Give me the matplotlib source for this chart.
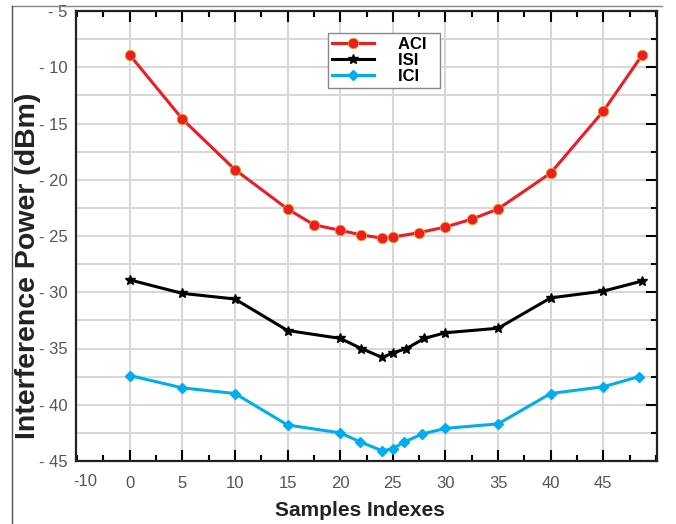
import matplotlib
matplotlib.use('Agg')
import matplotlib.pyplot as plt
from matplotlib.lines import Line2D
from matplotlib.ticker import MultipleLocator

plt.rcParams['font.family'] = ['Liberation Sans', 'DejaVu Sans']

# ACI series
aci_x = [0, 5, 10, 15, 17.5, 20, 22, 24, 25, 27.5, 30, 32.5, 35, 40, 45, 48.7]
aci_y = [-8.9, -14.6, -19.1, -22.6, -24.0, -24.5, -24.9, -25.2, -25.1, -24.7,
         -24.2, -23.5, -22.6, -19.4, -13.9, -8.9]

# ISI series
isi_x = [0, 5, 10, 15, 20, 22, 24, 25, 26.3, 28, 30, 35, 40, 45, 48.7]
isi_y = [-28.9, -30.1, -30.6, -33.4, -34.1, -35.0, -35.8, -35.4, -35.0, -34.1,
         -33.6, -33.2, -30.5, -29.9, -29.0]

# ICI series
ici_x = [0, 5, 10, 15, 20, 21.9, 24, 25, 26.1, 27.8, 30, 35, 40, 45, 48.4]
ici_y = [-37.4, -38.5, -39.0, -41.8, -42.5, -43.3, -44.1, -43.9, -43.3, -42.6,
         -42.1, -41.7, -39.0, -38.4, -37.5]

x_ticks = [0, 5, 10, 15, 20, 25, 30, 35, 40, 45]
y_ticks = [-45, -40, -35, -30, -25, -20, -15, -10, -5]

fig = plt.figure(figsize=(6.76, 5.24), dpi=100)
ax = fig.add_axes([76 / 676, 1 - 461 / 524, 581 / 676, 450 / 524])

# outer frame lines (top and left)
fig.add_artist(Line2D([12 / 676, 662 / 676], [1 - 6 / 524, 1 - 6 / 524],
                      transform=fig.transFigure, color='#888888', lw=1))
fig.add_artist(Line2D([12 / 676, 12 / 676], [0, 1 - 6 / 524],
                      transform=fig.transFigure, color='#555555', lw=1))

ax.plot(aci_x, aci_y, color='#ee1c24', lw=2.2, marker='o', ms=7.5,
        mfc='#ee1c24', mec='#e0a020', mew=0.6, label='ACI  ', zorder=3)
ax.plot(isi_x, isi_y, color='black', lw=2.2, marker='*', ms=7.5,
        label='ISI  ', zorder=3)
ax.plot(ici_x, ici_y, color='#00aeef', lw=2.2, marker='D', ms=5.5,
        label='ICI  ', zorder=3)

ax.set_xlim(-5.1, 50.1)
ax.set_ylim(-45, -5)
ax.set_xticks(x_ticks)
ax.set_xticklabels([str(t) for t in x_ticks])
ax.set_yticks(y_ticks)
ax.set_yticklabels(['- %d' % abs(t) for t in y_ticks])
ax.xaxis.set_minor_locator(MultipleLocator(2.5))
ax.yaxis.set_minor_locator(MultipleLocator(2.5))

ax.grid(True, which='major', color='#d8d8d8', lw=1.5, zorder=0)
ax.grid(True, which='minor', axis='y', color='#d8d8d8', lw=1.5, zorder=0)
ax.set_axisbelow(True)

ax.tick_params(which='both', direction='in', top=True, right=True,
               left=False, labelsize=12, labelcolor='#555555', width=1.5)
ax.tick_params(which='major', length=8)
ax.tick_params(which='minor', length=4)
ax.tick_params(axis='x', pad=11)
ax.tick_params(axis='y', pad=6)
for s in ax.spines.values():
    s.set_linewidth(1.6)
    s.set_color('#222222')

# stray "-10" label left of 0
ax.text(-4.2, -46.15, '-10', ha='center', va='top',
        fontsize=12, color='#555555')

ax.set_xlabel('Samples Indexes', fontsize=15, fontweight='bold', color='#222222', va='center')
ax.xaxis.set_label_coords(0.489, -0.109)
ax.set_ylabel('Interference Power (dBm)', fontsize=20.5, fontweight='bold', color='#222222', va='center')
ax.yaxis.set_label_coords(-0.083, 0.433)

leg = ax.legend(loc='upper left', bbox_to_anchor=((328 - 76) / 581, 1 - (33 - 11) / 450),
                prop={'weight': 'bold', 'size': 12}, frameon=True, fancybox=False,
                edgecolor='#888888', framealpha=1, handlelength=2.5, borderpad=0.25,
                labelspacing=0.05, handletextpad=1.45, markerscale=1.0, borderaxespad=0)
leg.get_frame().set_linewidth(1)

fig.savefig('out.png', dpi=100)
